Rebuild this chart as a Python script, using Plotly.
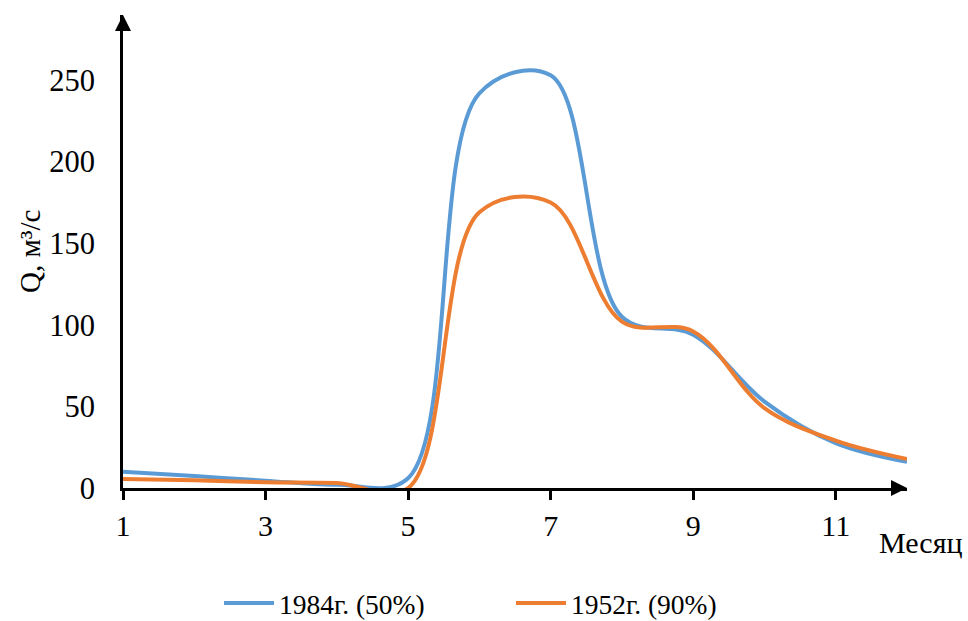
import plotly.graph_objects as go

months = [1, 2, 3, 4, 5, 6, 7, 8, 9, 10, 11, 12]
q_1984 = [10, 7.3, 4.5, 2, 6, 242, 253, 105, 94, 53, 27.5, 16]
q_1952 = [5.5, 4.7, 3.5, 3, 0, 169, 175, 102, 96, 49, 29, 17.7]
x_ticks = [1, 3, 5, 7, 9, 11]
y_ticks = [0, 50, 100, 150, 200, 250]
name_1984 = "1984г. (50%)"
name_1952 = "1952г. (90%)"

FONT = "Liberation Serif"
SMOOTH = 1.0

fig = go.Figure()
fig.add_trace(go.Scatter(x=months, y=q_1984, name=name_1984, mode="lines",
                         line=dict(color="#5B9BD5", width=4, shape="spline", smoothing=SMOOTH)))
fig.add_trace(go.Scatter(x=months, y=q_1952, name=name_1952, mode="lines",
                         line=dict(color="#ED7D31", width=4, shape="spline", smoothing=SMOOTH)))

W, H = 968, 621
ml, mr, mt, mb = 123, 968 - 907, 15, 621 - 488
PW, PH = W - ml - mr, H - mt - mb


def px_x(page_x):
    return (page_x - ml) / PW


def px_y(page_y):
    return (H - mb - page_y) / PH


fig.update_layout(
    width=W, height=H,
    margin=dict(l=ml, r=mr, t=mt, b=mb, pad=0, autoexpand=False),
    paper_bgcolor="white", plot_bgcolor="white",
    font=dict(family=FONT, size=28, color="black"),
    showlegend=True,
    legend=dict(orientation="h", x=219 / W, xanchor="left", xref="container",
                y=px_y(603), yanchor="middle", yref="paper",
                font=dict(family=FONT, size=27.5, color="black"),
                entrywidth=227, itemwidth=50, bgcolor="rgba(0,0,0,0)"),
    xaxis=dict(range=[1, 12], tickvals=x_ticks, ticks="outside", ticklen=9, tickwidth=3,
               tickcolor="black", showline=True, linewidth=3, linecolor="black",
               showgrid=False, zeroline=False, tickfont=dict(family=FONT, size=30),
               ticklabelstandoff=0, automargin=False),
    yaxis=dict(range=[0, 290], tickvals=y_ticks, ticks="", showline=True, linewidth=3,
               linecolor="black", showgrid=False, zeroline=False,
               tickfont=dict(family=FONT, size=30.5), ticklabelstandoff=19, automargin=False),
)

# Arrow heads on axes (paper coordinates, sized in pixels)
hw, hl = 8 / PW, 16 / PH
fig.add_shape(type="path", xref="paper", yref="paper",
              path=f"M {-hw} {1 - hl} L {hw} {1 - hl} L 0 1 Z",
              fillcolor="black", line=dict(width=0), layer="above")
hw2, hl2 = 8 / PH, 16 / PW
fig.add_shape(type="path", xref="paper", yref="paper",
              path=f"M 1 0 L {1 - hl2} {hw2} L {1 - hl2} {-hw2} Z",
              fillcolor="black", line=dict(width=0), layer="above")

# Axis titles
fig.add_annotation(text="Месяц", xref="paper", yref="paper",
                   x=px_x(965), xanchor="right",
                   y=px_y(542), yanchor="middle",
                   showarrow=False, font=dict(family=FONT, size=30))
fig.add_annotation(text="Q, м³/с", xref="paper", yref="paper",
                   x=px_x(30), xanchor="center",
                   y=px_y(252), yanchor="middle",
                   textangle=-90, showarrow=False, font=dict(family=FONT, size=29))

# remove the default 8px page margin so the 968x621 figure fills the window
fig.write_html("out.html", config={"displayModeBar": False},
               post_script="document.body.style.margin='0';")
